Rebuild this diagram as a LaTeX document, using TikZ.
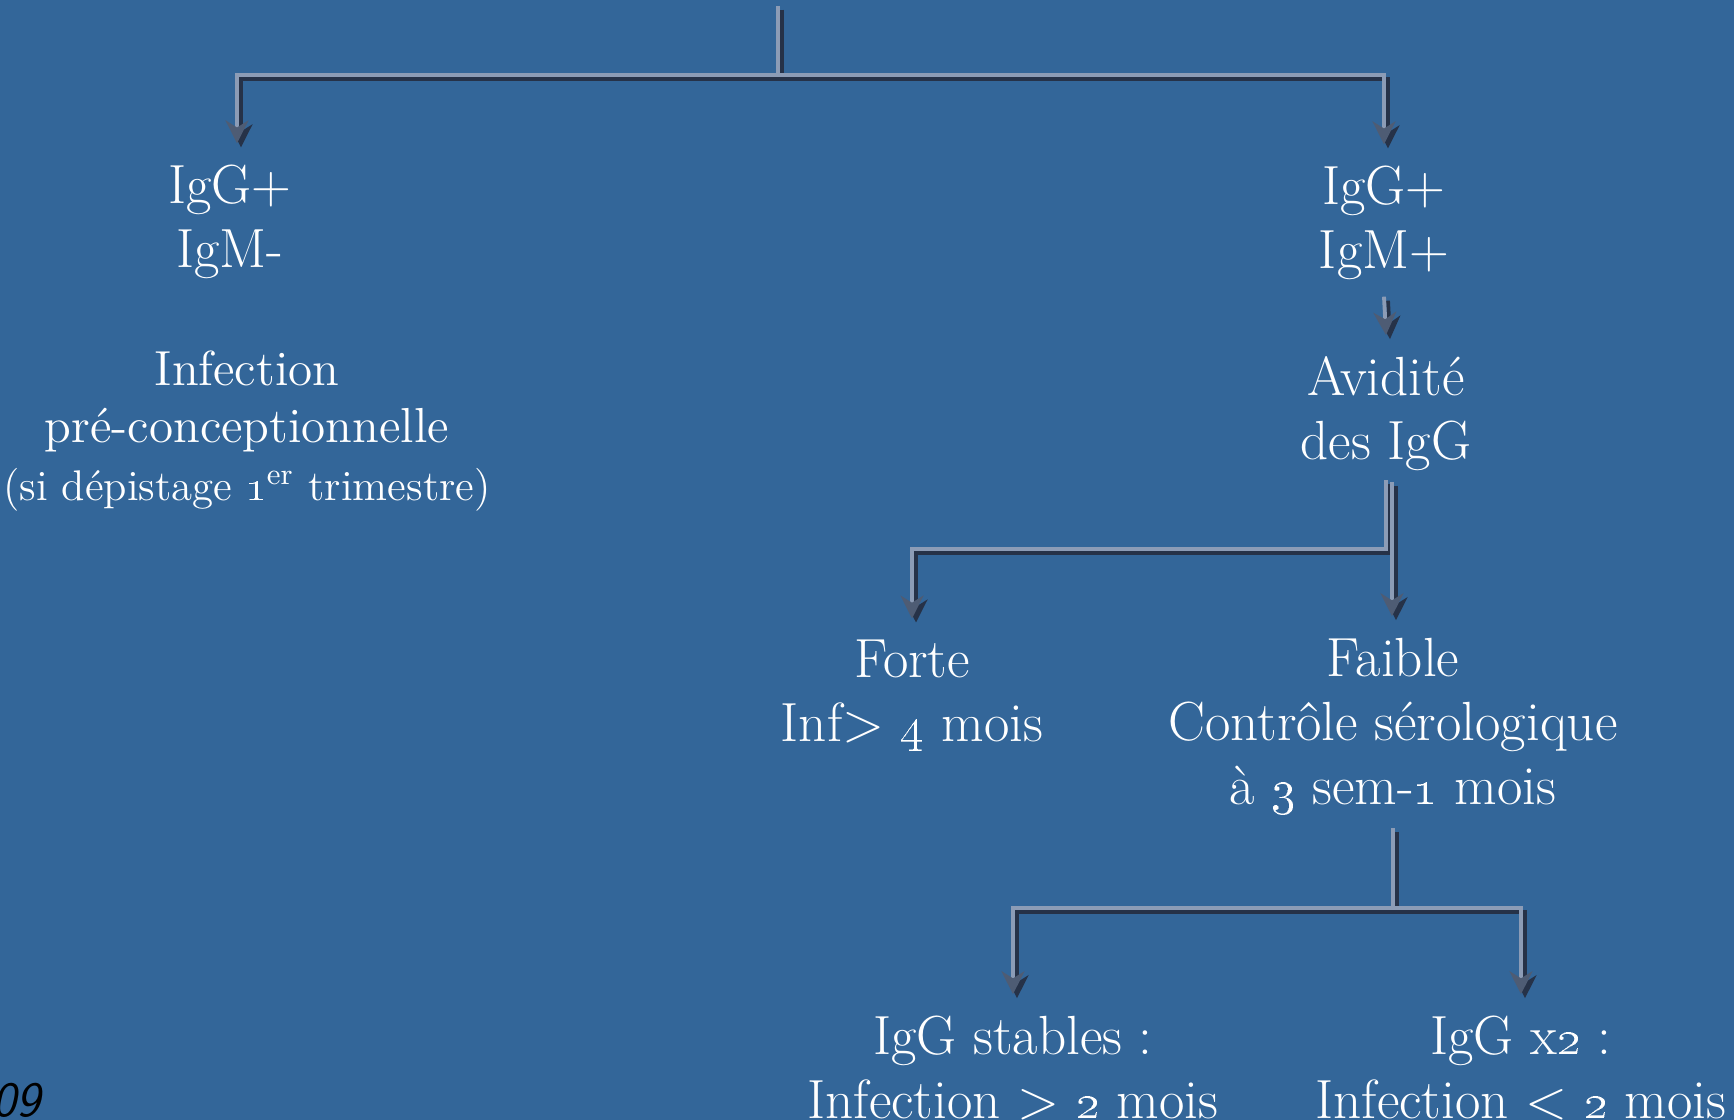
\documentclass[tikz,border=0pt]{standalone}
\usepackage{xcolor}
\usepackage{tikz}
\usetikzlibrary{arrows.meta}

\definecolor{slidebg}{RGB}{51,102,153}
\definecolor{linelight}{RGB}{140,156,182}
\definecolor{lineshade}{RGB}{38,50,72}
\definecolor{tipcol}{RGB}{78,92,116}

\begin{document}
\begin{tikzpicture}[
    txt/.style={text=white, align=center, inner xsep=0pt, inner ysep=6pt,
        font=\fontsize{15.7}{18.2}\selectfont},
    smalltxt/.style={text=white, align=center, inner sep=0pt,
        font=\fontsize{14}{16.3}\selectfont},
    conn/.style={draw=linelight, line width=1.1pt, line join=miter,
        -{Stealth[length=6.5pt, width=6.5pt, inset=2pt, fill=tipcol, color=tipcol]},
        preaction={draw=lineshade, line width=1.1pt,
            transform canvas={shift={(0.04,-0.04)}},
            -{Stealth[length=6.5pt, width=6.5pt, inset=2pt, fill=lineshade, color=lineshade]}}},
    plain/.style={draw=linelight, line width=1.1pt, line join=miter,
        preaction={draw=lineshade, line width=1.1pt,
            transform canvas={shift={(0.04,-0.04)}}}}]

    % Background
    \fill[slidebg] (0,0) rectangle (17.34,-11.20);
    \useasboundingbox (0,0) rectangle (17.34,-11.20);

    % First results
    \coordinate (title) at (7.78,-0.06);
    \node[txt] (neg) at (2.30,-2.22) {IgG+\\IgM-};
    \node[smalltxt] (inf) at (2.47,-4.31) {Infection\\pré-conceptionnelle\\
        {\fontsize{12.2}{14.6}\selectfont (si dépistage \oldstylenums{1}\textsuperscript{er} trimestre)}};
    \node[txt] (pos) at (13.84,-2.23) {IgG+\\IgM+};

    % Avidity
    \node[txt] (avid) at (13.86,-4.14) {Avidité\\des IgG};
    \node[txt] (forte) at (9.12,-6.96) {Forte\\Inf> \oldstylenums{4} mois};
    \node[txt] (faible) at (13.93,-7.26) {Faible\\Contrôle sérologique\\à \oldstylenums{3} sem-\oldstylenums{1} mois};

    % Control
    \node[txt] (stable) at (10.13,-10.68) {IgG stables :\\Infection > \oldstylenums{2} mois};
    \node[txt] (double) at (15.21,-10.68) {IgG x\oldstylenums{2} :\\Infection < \oldstylenums{2} mois};

    % Connectors
    \draw[conn] (title) -- ++(0,-0.69) -| ([xshift=0.07cm]neg.north);
    \draw[conn] (title) -- ++(0,-0.69) -| (pos.north);
    \draw[conn] ([yshift=0.05cm]pos.south) -- (avid.north);
    \draw[conn] ([yshift=0.13cm]avid.south) -- ++(0,-0.69) -| (forte.north);
    \draw[conn] ([xshift=0.06cm,yshift=0.11cm]avid.south) -- ([xshift=0.06cm]avid.south |- faible.north);
    \draw[plain] ([yshift=0.08cm]faible.south) -- ++(0,-0.80) coordinate (split);
    \draw[conn] (split) -| (stable.north);
    \draw[conn] (split) -| (double.north);

    % Page number
    \node[anchor=base west, inner sep=0pt, font=\fontsize{14}{16}\sffamily\itshape] (page) at (-0.08,-11.16) {09};
\end{tikzpicture}
\end{document}
